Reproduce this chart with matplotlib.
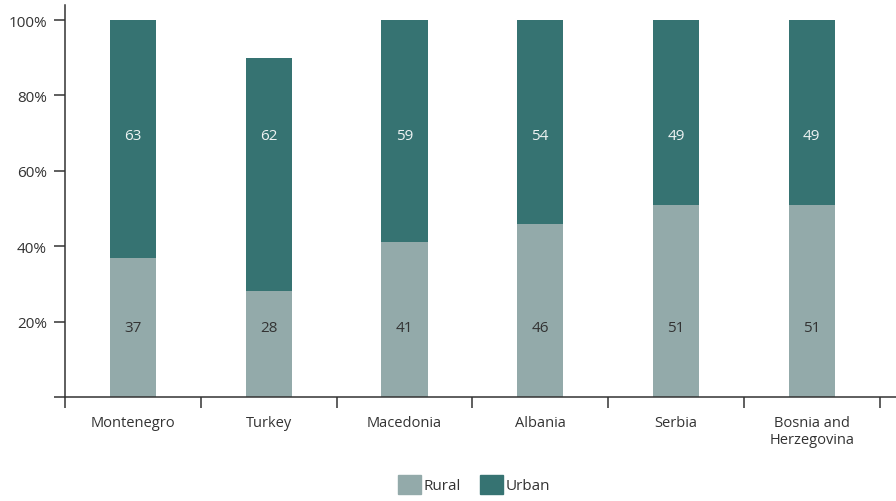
import matplotlib
matplotlib.use("Agg")
import matplotlib.pyplot as plt
import numpy as np
from matplotlib.patches import Patch

countries = ["Montenegro", "Turkey", "Macedonia", "Albania", "Serbia", "Bosnia and\nHerzegovina"]
rural = [37, 28, 41, 46, 51, 51]
urban = [63, 62, 59, 54, 49, 49]
y_ticks = [20, 40, 60, 80, 100]
y_tick_labels = ["20%", "40%", "60%", "80%", "100%"]

RURAL_C = "#93aaaa"
URBAN_C = "#367372"
INK = "#333333"

plt.rcParams["font.family"] = ["Open Sans", "DejaVu Sans"]

fig = plt.figure(figsize=(8.96, 5.02), dpi=100)
ax = fig.add_axes([65 / 896, 1 - 398 / 502, 1 - 65 / 896, (398 - 6) / 502])

x = np.arange(len(countries))
w = 0.34
ax.bar(x, rural, w, color=RURAL_C, label="Rural")
ax.bar(x, urban, w, bottom=rural, color=URBAN_C, label="Urban")

for xi, r, u in zip(x, rural, urban):
    ax.text(xi, 18.5, f"{r}", ha="center", va="center", fontsize=11, color=INK)
    ax.text(xi, 69.5, f"{u}", ha="center", va="center", fontsize=11, color="#eef3f3")

ax.set_xlim(-0.5, 5.62)
ax.set_ylim(0, 104)

ax.set_xticks(x)
ax.set_xticklabels(countries, fontsize=10.5, color=INK, va="top", linespacing=1.15)
ax.set_xticks(np.arange(-0.5, 6.0, 1.0), minor=True)
ax.tick_params(axis="x", which="major", length=0, pad=13)
ax.tick_params(axis="x", which="minor", length=8, width=1.1, color=INK, direction="out")

ax.set_yticks([0] + y_ticks)
ax.set_yticklabels([""] + y_tick_labels, fontsize=11, color=INK)
ax.tick_params(axis="y", length=8, width=1.1, color=INK, pad=5)

for s in ["top", "right"]:
    ax.spines[s].set_visible(False)
for s in ["left", "bottom"]:
    ax.spines[s].set_color(INK)
    ax.spines[s].set_linewidth(1.1)

handles = [Patch(color=RURAL_C, label="Rural"), Patch(color=URBAN_C, label="Urban")]
fig.legend(handles=handles, loc="lower center", bbox_to_anchor=(0.529, -0.014), ncol=2,
           frameon=False, fontsize=11, handlelength=1.5, handleheight=1.6,
           handletextpad=0.2, columnspacing=1.2, labelcolor=INK)

fig.savefig("out.png", dpi=100)
